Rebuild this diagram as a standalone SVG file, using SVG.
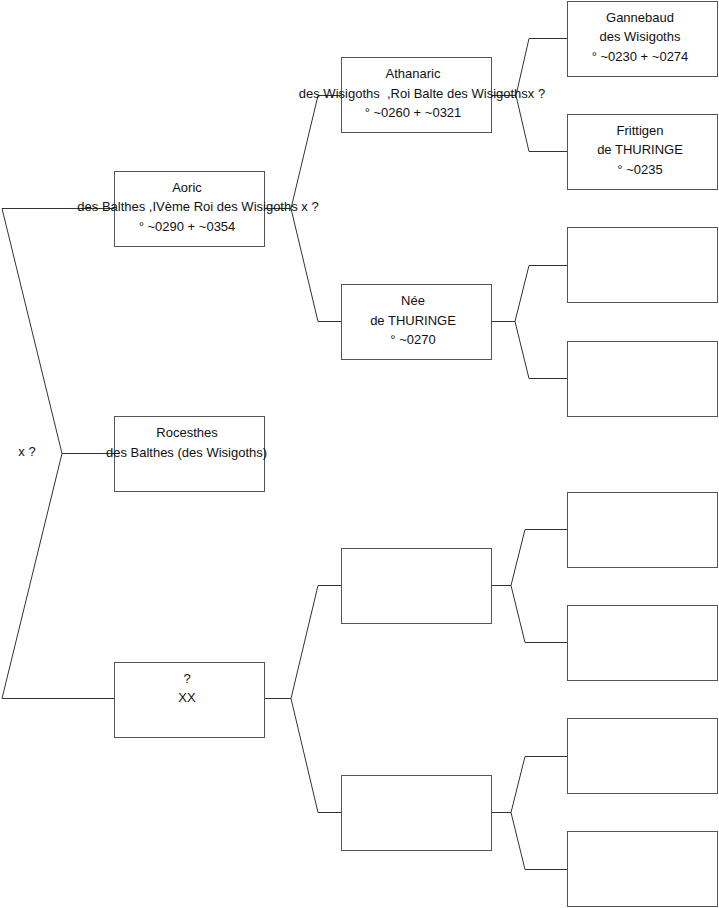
<svg xmlns="http://www.w3.org/2000/svg" width="719" height="908" viewBox="0 0 719 908">
<style>
.box{fill:#fff;stroke:#555;stroke-width:1}
.ln{fill:none;stroke:#333;stroke-width:1}
text{font-family:"Liberation Sans",Arial,sans-serif;font-size:13px;fill:#111;text-anchor:middle}
</style>
<rect width="719" height="908" fill="#fff"/>
<g id="connectors">
<path class="ln" d="M2,208.5H114M2,208.5L62,453.5L2,698.5H114M62,453.5H114"/>
<path class="ln" d="M265,208.5H291M318,95.5L291,208.5L318,321.5M318,95.5H341M318,321.5H341"/>
<path class="ln" d="M265,698.5H291M318,585.5L291,698.5L318,812.5M318,585.5H341M318,812.5H341"/>
<path class="ln" d="M492,95.5H516M529,38.5L516,95.5L529,151.5M529,38.5H567M529,151.5H567"/>
<path class="ln" d="M492,321.5H515M529,265.5L515,321.5L529,378.5M529,265.5H567M529,378.5H567"/>
<path class="ln" d="M492,585.5H511M525,529.5L511,585.5L525,642.5M525,529.5H567M525,642.5H567"/>
<path class="ln" d="M492,812.5H511M525,756.5L511,812.5L525,869.5M525,756.5H567M525,869.5H567"/>
</g>
<g id="aoric"><rect class="box" x="114.5" y="171.5" width="150" height="75"/>
<text x="187" y="191.5">Aoric</text><text x="198" y="211">des Balthes ,IVème Roi des Wisigoths x ?</text><text x="187" y="230.5">° ~0290 + ~0354</text></g>
<g id="rocesthes"><rect class="box" x="114.5" y="416.5" width="150" height="75"/>
<text x="187" y="437">Rocesthes</text><text x="186.5" y="456.5">des Balthes (des Wisigoths)</text></g>
<text id="x-label" x="27" y="456">x ?</text>
<g id="xx"><rect class="box" x="114.5" y="662.5" width="150" height="75"/>
<text x="187" y="682.5">?</text><text x="187" y="702">XX</text></g>
<g id="athanaric"><rect class="box" x="341.5" y="57.5" width="150" height="75"/>
<text x="413" y="78">Athanaric</text><text x="422" y="97.5">des Wisigoths&#160; ,Roi Balte des Wisigothsx ?</text><text x="413" y="117">° ~0260 + ~0321</text></g>
<g id="nee"><rect class="box" x="341.5" y="284.5" width="150" height="75"/>
<text x="413" y="305">Née</text><text x="413" y="324.5">de THURINGE</text><text x="413" y="344">° ~0270</text></g>
<g id="c2-3"><rect class="box" x="341.5" y="548.5" width="150" height="75"/></g>
<g id="c2-4"><rect class="box" x="341.5" y="775.5" width="150" height="75"/></g>
<g id="gannebaud"><rect class="box" x="567.5" y="1.5" width="150" height="75"/>
<text x="640" y="21.5">Gannebaud</text><text x="640" y="41">des Wisigoths</text><text x="640" y="60.5">° ~0230 + ~0274</text></g>
<g id="frittigen"><rect class="box" x="567.5" y="114.5" width="150" height="75"/>
<text x="640" y="134.5">Frittigen</text><text x="640" y="154">de THURINGE</text><text x="640" y="173.5">° ~0235</text></g>
<g id="c3-3"><rect class="box" x="567.5" y="227.5" width="150" height="75"/></g>
<g id="c3-4"><rect class="box" x="567.5" y="341.5" width="150" height="75"/></g>
<g id="c3-5"><rect class="box" x="567.5" y="492.5" width="150" height="75"/></g>
<g id="c3-6"><rect class="box" x="567.5" y="605.5" width="150" height="75"/></g>
<g id="c3-7"><rect class="box" x="567.5" y="718.5" width="150" height="75"/></g>
<g id="c3-8"><rect class="box" x="567.5" y="831.5" width="150" height="75"/></g>
</svg>
